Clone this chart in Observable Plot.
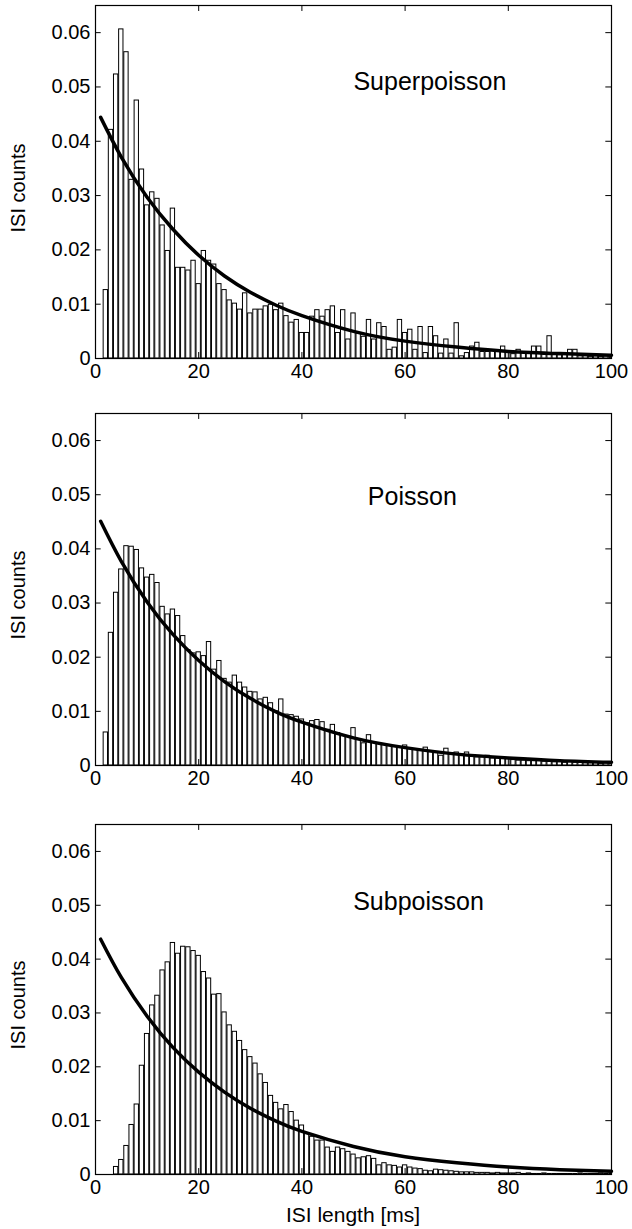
<!DOCTYPE html>
<html><head><meta charset="utf-8">
<script src="https://cdn.jsdelivr.net/npm/d3@7"></script>
<script src="https://cdn.jsdelivr.net/npm/@observablehq/plot@0.6"></script>
<style>
body{margin:0;background:#fff;}
#root{position:relative;width:632px;height:1229px;font-family:"Liberation Sans",Arial,sans-serif;color:#000;}
.panel{position:absolute;left:0;}
.ylab{position:absolute;left:18px;transform:translate(-50%,-50%) rotate(-90deg);white-space:nowrap;font-size:20px;}
.xlab{position:absolute;left:353px;top:1215px;transform:translate(-50%,-50%);font-size:21px;white-space:nowrap;}
</style></head><body><div id="root"></div>
<script>
// ISI bin centres (ms)
const bins = d3.range(1, 101);
const xTicks = [0, 20, 40, 60, 80, 100];
const yTicks = [0, 0.01, 0.02, 0.03, 0.04, 0.05, 0.06];

const superpoisson = [0,0.0126,0.0421,0.0523,0.0606,0.0564,0.0329,0.0475,0.0348,0.0282,
0.0306,0.0294,0.0245,0.0198,0.0276,0.0167,0.0167,0.0162,0.0180,0.0137,
0.0198,0.0180,0.0173,0.0137,0.0126,0.0107,0.0101,0.0090,0.0120,0.0083,
0.0090,0.0090,0.0096,0.0099,0.0089,0.0101,0.0078,0.0066,0.0071,0.0047,
0.0047,0.0077,0.0089,0.0077,0.0089,0.0096,0.0047,0.0089,0.0035,0.0083,
0.0046,0.0040,0.0071,0.0035,0.0065,0.0058,0.0016,0.0020,0.0071,0.0047,
0.0053,0.0016,0.0058,0.0010,0.0058,0.0041,0.0009,0.0035,0.0009,0.0065,
0.0004,0.0010,0.0022,0.0029,0.0012,0.0012,0.0015,0.0012,0.0022,0.0012,
0.0008,0.0016,0.0010,0.0012,0.0022,0.0022,0.0008,0.0041,0.0008,0.0006,
0.0008,0.0016,0.0016,0.0004,0.0004,0.0003,0.0004,0.0003,0.0004,0.0002];

const poisson = [0,0.0061,0.0245,0.0319,0.0362,0.0405,0.0404,0.0398,0.0364,0.0347,
0.0352,0.0337,0.0293,0.0279,0.0288,0.0276,0.0239,0.0213,0.0207,0.0209,
0.0202,0.0228,0.0177,0.0193,0.0160,0.0153,0.0166,0.0153,0.0144,0.0136,
0.0135,0.0122,0.0125,0.0115,0.0100,0.0122,0.0094,0.0093,0.0090,0.0085,
0.0078,0.0082,0.0084,0.0080,0.0066,0.0075,0.0060,0.0055,0.0053,0.0069,
0.0047,0.0041,0.0056,0.0042,0.0041,0.0038,0.0036,0.0035,0.0034,0.0037,
0.0030,0.0029,0.0028,0.0033,0.0026,0.0023,0.0018,0.0031,0.0023,0.0024,
0.0020,0.0024,0.0017,0.0015,0.0015,0.0018,0.0013,0.0013,0.0012,0.0012,
0.0010,0.0009,0.0009,0.0008,0.0008,0.0008,0.0007,0.0007,0.0006,0.0006,
0.0005,0.0006,0.0005,0.0005,0.0004,0.0004,0.0004,0.0003,0.0004,0.0003];

const subpoisson = [0,0,0,0.0014,0.0027,0.0053,0.0092,0.0130,0.0202,0.0261,
0.0314,0.0332,0.0379,0.0394,0.0430,0.0410,0.0423,0.0422,0.0415,0.0406,
0.0376,0.0364,0.0334,0.0335,0.0301,0.0277,0.0265,0.0248,0.0231,0.0218,
0.0206,0.0186,0.0170,0.0146,0.0133,0.0121,0.0129,0.0116,0.0100,0.0091,
0.0077,0.0070,0.0063,0.0063,0.0050,0.0042,0.0050,0.0047,0.0042,0.0037,
0.0030,0.0032,0.0034,0.0029,0.0017,0.0021,0.0017,0.0016,0.0013,0.0017,
0.0013,0.0011,0.0010,0.0007,0.0006,0.0009,0.0008,0.0007,0.0006,0.0005,
0.0004,0.0004,0.0004,0.0003,0.0003,0.0003,0.0002,0.0003,0.0002,0.0002,
0.0002,0.0003,0.0001,0.0002,0.0001,0.0001,0.0002,0.0001,0.0001,0.0001,
0.0001,0.0001,0.0001,0.0002,0.0001,0.0001,0.0001,0.0002,0.0001,0.0001];

// fitted exponential curve, read at these ISI lengths
const curveX = [1,5,10,15,20,25,30,35,40,50,60,70,80,90,100];
const curveSuper = [0.0444,0.0371,0.0297,0.0238,0.0190,0.0152,0.0122,0.0098,0.0079,0.0050,0.0032,0.0021,0.0013,0.0009,0.0006];
const curvePoisson = [0.0451,0.0377,0.0302,0.0242,0.0194,0.0155,0.0124,0.0099,0.0080,0.0051,0.0033,0.0021,0.0014,0.0009,0.0006];
const curveSub = [0.0437,0.0366,0.0294,0.0236,0.0190,0.0153,0.0123,0.0099,0.0080,0.0052,0.0033,0.0022,0.0014,0.0009,0.0006];

const panelNames = ["Superpoisson", "Poisson", "Subpoisson"];

const panels = [
  {name: panelNames[0], values: superpoisson, curve: curveSuper, top: 0,   mt: 5,  ih: 353, lx: 64.8, ly: 0.0510},
  {name: panelNames[1], values: poisson,      curve: curvePoisson, top: 400, mt: 13, ih: 352, lx: 61.4, ly: 0.0495},
  {name: panelNames[2], values: subpoisson,   curve: curveSub, top: 810, mt: 14, ih: 350, lx: 62.6, ly: 0.0507}
];

const root = document.getElementById("root");
const FONT = "'Liberation Sans', Arial, Helvetica, sans-serif";
const mb = 40;

panels.forEach(p => {
  const data = bins.map((b, i) => ({x: b, v: p.values[i]})).filter(d => d.v > 0);
  const curve = curveX.map((x, i) => ({x, y: p.curve[i]}));
  const chart = Plot.plot({
    width: 632,
    height: p.mt + p.ih + mb,
    marginLeft: 95, marginRight: 21, marginTop: p.mt, marginBottom: mb,
    x: {domain: [0, 100]},
    y: {domain: [0, 0.065]},
    style: {fontFamily: FONT, fontSize: "20px", background: "white", color: "black", overflow: "visible"},
    marks: [
      Plot.rectY(data, {x1: d => d.x - 0.42, x2: d => d.x + 0.42, y1: 0, y2: "v", fill: "white", stroke: "black", strokeWidth: 1, clip: true}),
      Plot.line(curve, {x: "x", y: "y", stroke: "black", strokeWidth: 3.5, curve: "natural"}),
      Plot.ruleY(yTicks, {x1: 0, x2: 1.1, stroke: "black"}),
      Plot.ruleY(yTicks, {x1: 98.9, x2: 100, stroke: "black"}),
      Plot.ruleX(xTicks, {y1: 0, y2: 0.0011, stroke: "black"}),
      Plot.ruleX(xTicks, {y1: 0.0639, y2: 0.065, stroke: "black"}),
      Plot.axisX({ticks: xTicks, tickSize: 0, tickPadding: 5, tickFormat: d => String(d), label: null, fontSize: 20}),
      Plot.axisY({ticks: yTicks, tickSize: 0, tickPadding: 5, tickFormat: d => d === 0 ? "0" : d.toFixed(2), label: null, fontSize: 20}),
      Plot.frame({stroke: "black", strokeWidth: 1.2}),
      Plot.text([p.name], {x: p.lx, y: p.ly, text: d => d, fontSize: 25, fill: "black"})
    ]
  });
  const wrap = document.createElement("div");
  wrap.className = "panel";
  wrap.style.top = p.top + "px";
  wrap.appendChild(chart);
  root.appendChild(wrap);

  const yl = document.createElement("div");
  yl.className = "ylab";
  yl.textContent = "ISI counts";
  yl.style.top = (p.top + p.mt + p.ih / 2 + 6) + "px";
  root.appendChild(yl);
});

const xl = document.createElement("div");
xl.className = "xlab";
xl.textContent = "ISI length [ms]";
root.appendChild(xl);
</script>
</body></html>
